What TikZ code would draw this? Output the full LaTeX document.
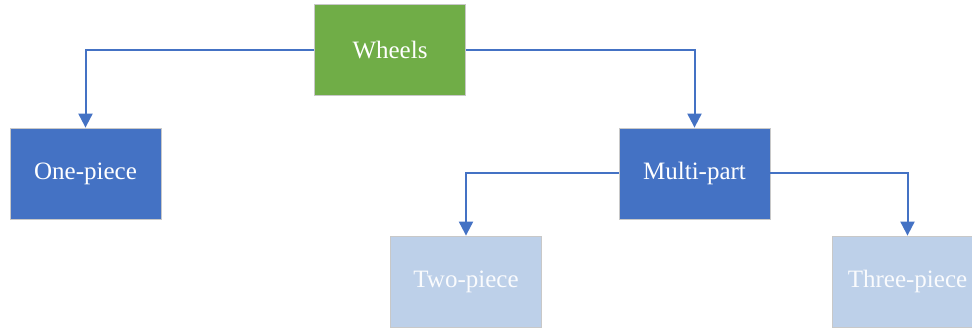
\documentclass[tikz,border=0pt]{standalone}
\usepackage{fontspec}
\setmainfont{Liberation Serif}
\usetikzlibrary{arrows.meta}
\definecolor{leafgreen}{HTML}{70AD47}
\definecolor{boxblue}{HTML}{4472C4}
\definecolor{paleblue}{HTML}{BDD0E9}
\definecolor{rimgray}{HTML}{C8C8C8}
\tikzset{
  card/.style={draw=rimgray, line width=0.8pt, minimum width=151pt, minimum height=91pt,
    inner sep=0pt, text=white, font=\fontsize{25}{28}\selectfont},
  topcard/.style={card, fill=leafgreen},
  midcard/.style={card, fill=boxblue},
  lowcard/.style={card, fill=paleblue, text=white!92!paleblue},
  link/.style={draw=boxblue, line width=2pt, -{Triangle[length=14pt,width=14pt]}}
}
\begin{document}
\begin{tikzpicture}[x=1pt,y=-1pt]
  \useasboundingbox (0,0) rectangle (972,331);
  \clip (0,0) rectangle (972,331);
  \node[topcard] (wheels) at (390,50) {Wheels};
  \node[midcard] (one) at (85.5,173.5) {One-piece};
  \node[midcard] (multi) at (694.5,173.5) {Multi-part};
  \node[lowcard] (two) at (466,281.5) {Two-piece};
  \node[lowcard] (three) at (907.5,281.5) {Three-piece};
  \draw[link] (wheels.west) -| (one.north);
  \draw[link] (wheels.east) -| (multi.north);
  \draw[link] (multi.west) -| (two.north);
  \draw[link] (multi.east) -| (three.north);
\end{tikzpicture}
\end{document}
